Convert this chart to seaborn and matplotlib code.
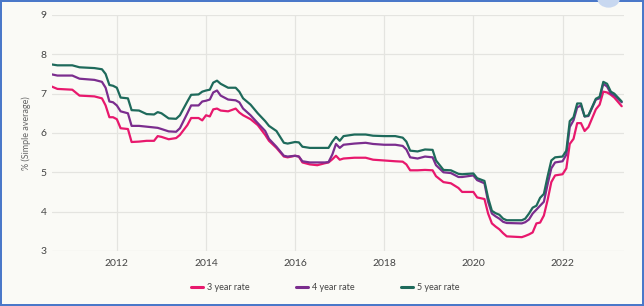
"""
Term deposit rates chart (3, 4 and 5 year rates, simple average).
"""
import matplotlib
matplotlib.use('Agg')
import matplotlib.pyplot as plt
import matplotlib.dates as mdates
from matplotlib.patches import Ellipse
import seaborn as sns
import pandas as pd

# Data (monthly key points)
months = [
    "2010-07", "2010-09", "2011-01", "2011-03", "2011-07", "2011-09", "2011-10", "2011-11",
    "2011-12", "2012-01", "2012-02", "2012-04", "2012-05", "2012-07", "2012-09", "2012-11",
    "2012-12", "2013-01", "2013-03", "2013-05", "2013-06", "2013-08", "2013-09", "2013-11",
    "2013-12", "2014-01", "2014-02", "2014-03", "2014-04", "2014-05", "2014-07", "2014-09",
    "2014-10", "2014-11", "2015-01", "2015-03", "2015-05", "2015-06", "2015-08", "2015-10",
    "2015-11", "2016-01", "2016-02", "2016-03", "2016-05", "2016-07", "2016-09", "2016-10",
    "2016-11", "2016-12", "2017-01", "2017-02", "2017-05", "2017-08", "2017-10", "2018-01",
    "2018-04", "2018-06", "2018-07", "2018-08", "2018-10", "2018-12", "2019-02", "2019-03",
    "2019-05", "2019-07", "2019-09", "2019-10", "2020-01", "2020-02", "2020-04", "2020-05",
    "2020-06", "2020-07", "2020-08", "2020-09", "2020-10", "2021-02", "2021-03", "2021-04",
    "2021-05", "2021-06", "2021-07", "2021-08", "2021-09", "2021-10", "2021-11", "2022-01",
    "2022-02", "2022-03", "2022-04", "2022-05", "2022-06", "2022-07", "2022-08", "2022-10",
    "2022-11", "2022-12", "2023-01", "2023-02", "2023-03", "2023-05",
]

rate_3y = [
    7.20, 7.12, 7.10, 6.95, 6.93, 6.88, 6.70, 6.40,
    6.40, 6.35, 6.12, 6.10, 5.77, 5.78, 5.80, 5.80,
    5.92, 5.90, 5.84, 5.87, 5.95, 6.20, 6.38, 6.38,
    6.32, 6.45, 6.42, 6.60, 6.62, 6.57, 6.55, 6.62,
    6.52, 6.45, 6.35, 6.20, 5.95, 5.80, 5.62, 5.40,
    5.38, 5.42, 5.40, 5.25, 5.20, 5.18, 5.23, 5.25,
    5.33, 5.42, 5.32, 5.35, 5.37, 5.37, 5.32, 5.30,
    5.28, 5.27, 5.20, 5.05, 5.05, 5.06, 5.05, 4.90,
    4.75, 4.72, 4.60, 4.50, 4.50, 4.36, 4.32, 3.95,
    3.70, 3.62, 3.55, 3.45, 3.37, 3.35, 3.38, 3.42,
    3.47, 3.70, 3.72, 3.90, 4.30, 4.75, 4.92, 4.95,
    5.10, 5.72, 5.85, 6.25, 6.25, 6.05, 6.15, 6.60,
    6.72, 7.05, 7.03, 6.97, 6.90, 6.68,
]

rate_4y = [
    7.50, 7.46, 7.46, 7.38, 7.35, 7.30, 7.15, 6.80,
    6.78, 6.70, 6.55, 6.50, 6.18, 6.18, 6.16, 6.14,
    6.13, 6.10, 6.04, 6.03, 6.12, 6.50, 6.70, 6.70,
    6.80, 6.82, 6.85, 7.03, 7.08, 6.95, 6.85, 6.83,
    6.78, 6.62, 6.45, 6.25, 6.05, 5.85, 5.65, 5.42,
    5.40, 5.42, 5.40, 5.28, 5.25, 5.25, 5.25, 5.26,
    5.45, 5.72, 5.62, 5.70, 5.73, 5.75, 5.72, 5.70,
    5.70, 5.67, 5.58, 5.38, 5.35, 5.40, 5.38, 5.18,
    5.00, 4.98, 4.88, 4.88, 4.92, 4.80, 4.72, 4.25,
    3.95, 3.88, 3.82, 3.74, 3.71, 3.70, 3.73, 3.80,
    3.95, 4.05, 4.15, 4.25, 4.70, 5.10, 5.25, 5.28,
    5.45, 6.15, 6.32, 6.65, 6.70, 6.42, 6.43, 6.85,
    6.88, 7.25, 7.18, 7.00, 6.96, 6.78,
]

rate_5y = [
    7.75, 7.72, 7.72, 7.67, 7.65, 7.62, 7.50, 7.22,
    7.20, 7.15, 6.90, 6.88, 6.58, 6.57, 6.48, 6.47,
    6.53, 6.50, 6.37, 6.36, 6.45, 6.80, 6.97, 6.98,
    7.05, 7.08, 7.10, 7.28, 7.33, 7.25, 7.15, 7.15,
    7.05, 6.88, 6.72, 6.50, 6.30, 6.18, 6.05, 5.75,
    5.73, 5.77, 5.76, 5.65, 5.62, 5.62, 5.62, 5.62,
    5.78, 5.90, 5.80, 5.92, 5.96, 5.96, 5.93, 5.92,
    5.92, 5.88, 5.78, 5.55, 5.53, 5.58, 5.57, 5.30,
    5.06, 5.05, 4.96, 4.95, 4.97, 4.85, 4.78, 4.35,
    4.02, 3.96, 3.92, 3.82, 3.78, 3.78, 3.82, 3.95,
    4.10, 4.15, 4.35, 4.45, 4.90, 5.30, 5.38, 5.40,
    5.55, 6.30, 6.40, 6.75, 6.75, 6.42, 6.45, 6.87,
    6.92, 7.30, 7.25, 7.05, 7.00, 6.80,
]

series_names = ["3 year rate", "4 year rate", "5 year rate"]
series_colors = ["#e8186d", "#7b2d8e", "#1e6a5b"]
year_ticks = [2012, 2014, 2016, 2018, 2020, 2022]
y_ticks = [3, 4, 5, 6, 7, 8, 9]

# Long-form table for seaborn
dates = pd.to_datetime(months)
df = pd.concat([
    pd.DataFrame({"date": dates, "rate": vals, "series": name})
    for name, vals in zip(series_names, [rate_3y, rate_4y, rate_5y])
])

sns.set_theme(style="white")
plt.rcParams['font.family'] = ['Lato', 'DejaVu Sans']

bg = "#fafaf6"
fig = plt.figure(figsize=(6.44, 3.06), dpi=100, facecolor=bg)
fig.patch.set_edgecolor("#4a78c9")
fig.patch.set_linewidth(1.6)
ax = fig.add_axes([0.081, 0.180, 0.888, 0.771])
ax.set_facecolor(bg)

sns.lineplot(data=df, x="date", y="rate", hue="series", hue_order=series_names,
             palette=series_colors, linewidth=1.6, ax=ax, legend=False)

ax.set_ylim(3, 9)
ax.set_yticks(y_ticks)
ax.set_xlim(pd.Timestamp("2010-07-20"), pd.Timestamp("2023-05-20"))
ax.set_xticks([pd.Timestamp(f"{y}-01-01") for y in year_ticks])
ax.xaxis.set_major_formatter(mdates.DateFormatter("%Y"))

ax.grid(True, color="#e4e4e0", linewidth=0.9)
for s in ax.spines.values():
    s.set_visible(False)
ax.tick_params(axis='both', length=0, labelsize=7.5, colors="#444444")
ax.tick_params(axis='y', pad=4)
ax.tick_params(axis='x', pad=6)
ax.set_xlabel("")
ax.set_ylabel("% (Simple average)", fontsize=6.5, color="#666666", labelpad=7)

# Legend below the axes
handles = [plt.Line2D([], [], color=c, linewidth=2.2) for c in series_colors]
fig.legend(handles, series_names, loc="lower center", bbox_to_anchor=(0.505, 0.02),
           ncol=3, frameon=False, fontsize=6.5, handlelength=1.3, handletextpad=0.4,
           columnspacing=5.2, labelcolor="#444444")

# small light-blue badge partly visible at top right
fig.patches.append(Ellipse((0.945, 1.005), 0.035, 0.06, transform=fig.transFigure,
                           facecolor="#c8d8f0", edgecolor="none", figure=fig))

fig.savefig("out.png", dpi=100, facecolor=bg, edgecolor=fig.get_edgecolor())
plt.close(fig)
